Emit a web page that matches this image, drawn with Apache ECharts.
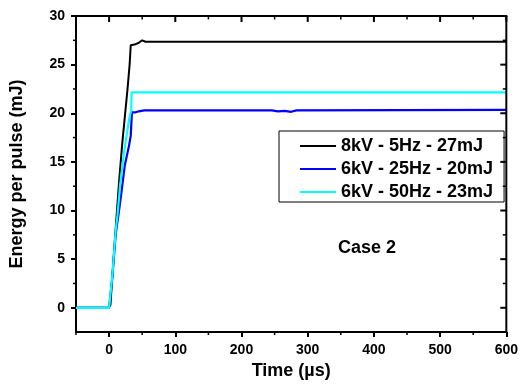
<!DOCTYPE html>
<html>
<head>
<meta charset="utf-8">
<script src="https://cdn.jsdelivr.net/npm/echarts@6/dist/echarts.min.js"></script>
<style>html,body{margin:0;padding:0;background:#fff}#c{width:521px;height:385px}</style>
</head>
<body>
<div id="c"></div>
<script>
const seriesNames = ['8kV - 5Hz - 27mJ', '6kV - 25Hz - 20mJ', '6kV - 50Hz - 23mJ'];
const black8kV = [[-50,0],[-1,0],[0,-0.2],[2,0.3],[5,3.4],[10,8.2],[15,12.9],[20,17.0],[24,19.8],[27.7,22.4],[31,25.0],[32.7,27.0],[40,27.1],[45,27.25],[50,27.5],[55,27.35],[600,27.35]];
const blue25Hz = [[-50,0],[0,0],[5,3.2],[10,7.6],[15,10.0],[20,12.6],[23.6,14.6],[30.2,16.7],[32.7,17.7],[34.5,20.1],[40,20.1],[45,20.2],[53,20.3],[246,20.3],[255,20.2],[265,20.25],[275,20.15],[283,20.3],[600,20.35]];
const cyan50Hz = [[-50,0],[0,0],[5,3.4],[10,8.0],[12.6,9.5],[16.6,12.6],[22.6,16.0],[30.2,19.4],[33.5,20.3],[34,22.15],[600,22.15]];
const xMajor = [0,100,200,300,400,500,600];
const xMinor = [-50,50,150,250,350,450,550];
const yMajor = [0,5,10,15,20,25,30];
const yMinor = [2.5,7.5,12.5,17.5,22.5,27.5];
const xRange = [-50, 600];
const yRange = [-2.5, 30];
const annotation = 'Case 2';

const FONT = 'Liberation Sans';
const titleStyle = {color:'#000', fontFamily:FONT, fontWeight:'bold', fontSize:18};
function axis(range, pos, ticks, name, gap){
  return {type:'value', position:pos, min:range[0], max:range[1],
    name:name, nameLocation:'middle', nameGap:gap, nameTextStyle:titleStyle,
    axisLine:{show:true, onZero:false, lineStyle:{color:'#000', width:2}},
    axisTick:{show:true, inside:false, length:5, customValues:ticks, lineStyle:{color:'#000', width:2}},
    axisLabel:{show:true, customValues:ticks, margin:11, color:'#000', fontFamily:FONT, fontWeight:'bold', fontSize:14},
    splitLine:{show:false}};
}

const chart = echarts.init(document.getElementById('c'), null, {renderer:'canvas'});
chart.setOption({
  animation:false,
  backgroundColor:'#fff',
  grid:{left:76, right:13, top:16, bottom:51, containLabel:false},
  xAxis:axis(xRange, 'bottom', xMajor, 'Time (µs)', 28),
  yAxis:axis(yRange, 'left', yMajor, 'Energy per pulse (mJ)', 50),
  legend:{
    data:seriesNames, orient:'vertical', left:279, top:131,
    itemWidth:36, itemHeight:14, itemGap:3,
    padding:[5,11,0,21], borderColor:'#000', borderWidth:1, backgroundColor:'#fff',
    icon:'path://M0,6L36,6L36,8L0,8Z',
    textStyle:{color:'#000', fontFamily:FONT, fontWeight:'bold', fontSize:18, lineHeight:20}
  },
  series:[
    {name:seriesNames[0], type:'line', data:black8kV, showSymbol:false, color:'#000000', lineStyle:{width:2, color:'#000000'}},
    {name:seriesNames[1], type:'line', data:blue25Hz, showSymbol:false, color:'#0000ff', lineStyle:{width:2.2, color:'#0000ff'}},
    {name:seriesNames[2], type:'line', data:cyan50Hz, showSymbol:false, color:'#00ffff', lineStyle:{width:2.2, color:'#00ffff'}}
  ]
});

// Frame, mirrored inward ticks and minor ticks, placed through the chart's own scales.
const px = (x, y) => chart.convertToPixel({gridIndex:0}, [x, y]);
const els = [];
function seg(a, b, w){ els.push({type:'line', silent:true, z:100, shape:{x1:a[0], y1:a[1], x2:b[0], y2:b[1]}, style:{stroke:'#000', lineWidth:w}}); }
const tl = px(xRange[0], yRange[1]), tr = px(xRange[1], yRange[1]), br = px(xRange[1], yRange[0]);
seg([tl[0]-1, tl[1]], [tr[0]+1, tr[1]], 2);
seg([tr[0], tr[1]], [br[0], br[1]+1], 2);
xMajor.forEach(v => { const p = px(v, yRange[1]); seg(p, [p[0], p[1]+6], 2); });
xMinor.forEach(v => { const p = px(v, yRange[1]); seg(p, [p[0], p[1]+3.5], 1.5); });
xMinor.forEach(v => { const p = px(v, yRange[0]); seg(p, [p[0], p[1]+3], 1.5); });
yMajor.forEach(v => { const p = px(xRange[1], v); seg(p, [p[0]-6, p[1]], 2); });
yMinor.forEach(v => { const p = px(xRange[1], v); seg(p, [p[0]-3.5, p[1]], 1.5); });
yMinor.forEach(v => { const p = px(xRange[0], v); seg(p, [p[0]-3, p[1]], 1.5); });
els.push({type:'text', x:367, y:248, style:{text:annotation, fill:'#000', font:'bold 18px "Liberation Sans"', textAlign:'center', textVerticalAlign:'middle'}});
chart.setOption({graphic:els});
</script>
</body>
</html>
